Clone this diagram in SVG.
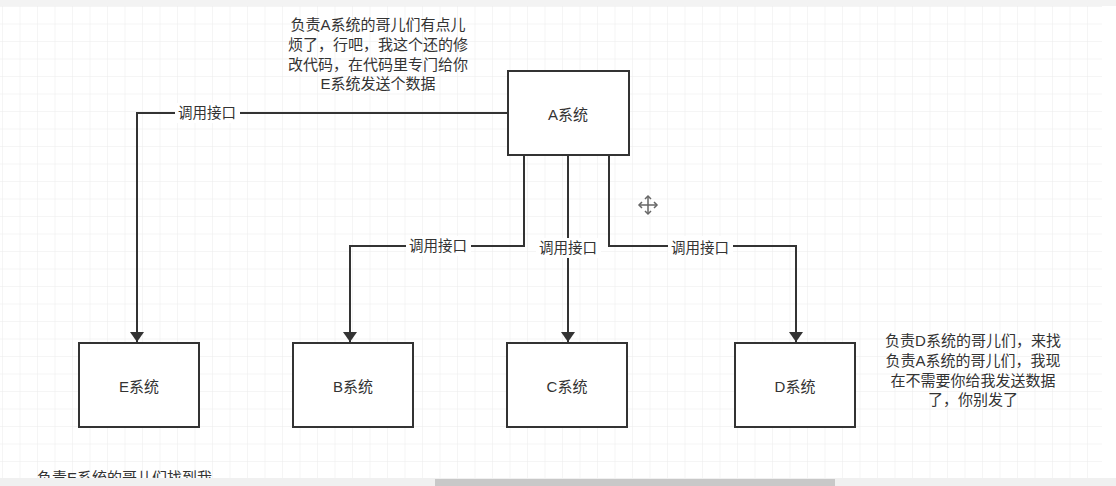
<svg xmlns="http://www.w3.org/2000/svg" width="1116" height="486" viewBox="0 0 1116 486">
<defs>
<pattern id="grid" x="3" y="7" width="17.5" height="17.5" patternUnits="userSpaceOnUse">
<path d="M17.5 0V17.5M0 17.5H17.5" fill="none" stroke="#ebebeb" stroke-width="1"/>
</pattern>
<marker id="arr" viewBox="0 0 10 14" refX="10" refY="7" markerWidth="10" markerHeight="14" markerUnits="userSpaceOnUse" orient="auto">
<path d="M0 0L10 7L0 14Z" fill="#333"/>
</marker>
<style>
.box{fill:#fff;stroke:#333;stroke-width:2}
.lbl{font-family:"Liberation Sans","Noto Sans CJK SC",sans-serif;font-size:15px;fill:#333;text-anchor:middle;dominant-baseline:central}
.note{font-family:"Liberation Sans","Noto Sans CJK SC",sans-serif;font-size:15px;fill:#333;text-anchor:middle}
.edge{fill:none;stroke:#333;stroke-width:2}
.elbl{font-family:"Liberation Sans","Noto Sans CJK SC",sans-serif;font-size:14.5px;fill:#333;text-anchor:middle;dominant-baseline:central}
</style>
</defs>
<rect width="1116" height="486" fill="#fff"/>
<rect x="0" y="6" width="1102" height="472" fill="url(#grid)"/>
<rect x="0" y="0" width="1116" height="6" fill="#f3f3f3"/>
<g id="connectors">
<path class="edge" d="M508 113H137V342" marker-end="url(#arr)"/>
<path class="edge" d="M524 155V246H350V342" marker-end="url(#arr)"/>
<path class="edge" d="M568 155V342" marker-end="url(#arr)"/>
<path class="edge" d="M609 155V246H796V342" marker-end="url(#arr)"/>
<rect x="175" y="103" width="65" height="20" fill="#fff"/>
<text class="elbl" x="207" y="113">调用接口</text>
<rect x="406" y="236" width="65" height="20" fill="#fff"/>
<text class="elbl" x="438" y="246">调用接口</text>
<rect x="536" y="238" width="65" height="20" fill="#fff"/>
<text class="elbl" x="568" y="248">调用接口</text>
<rect x="668" y="236" width="65" height="20" fill="#fff"/>
<text class="elbl" x="700" y="248">调用接口</text>
</g>
<g id="nodeA"><rect class="box" x="508" y="71" width="121" height="84"/><text class="lbl" x="568" y="114">A系统</text></g>
<g id="nodeE"><rect class="box" x="79" y="343" width="120" height="84"/><text class="lbl" x="139" y="386">E系统</text></g>
<g id="nodeB"><rect class="box" x="293" y="343" width="120" height="84"/><text class="lbl" x="353" y="386">B系统</text></g>
<g id="nodeC"><rect class="box" x="507" y="343" width="120" height="84"/><text class="lbl" x="567" y="386">C系统</text></g>
<g id="nodeD"><rect class="box" x="735" y="343" width="120" height="84"/><text class="lbl" x="795" y="386">D系统</text></g>
<g id="noteTop">
<text class="note" x="378" y="30">负责A系统的哥儿们有点儿</text>
<text class="note" x="378" y="50">烦了，行吧，我这个还的修</text>
<text class="note" x="378" y="70">改代码，在代码里专门给你</text>
<text class="note" x="378" y="89">E系统发送个数据</text>
</g>
<g id="noteD">
<text class="note" x="973" y="346">负责D系统的哥儿们，来找</text>
<text class="note" x="973" y="366">负责A系统的哥儿们，我现</text>
<text class="note" x="973" y="386">在不需要你给我发送数据</text>
<text class="note" x="973" y="405">了，你别发了</text>
</g>
<g id="noteE">
<text class="note" x="37" y="483" style="text-anchor:start">负责E系统的哥儿们找到我</text>
</g>
<g id="cursor" fill="none" stroke="#666" stroke-width="1.5">
<path d="M648 197V213M640 205H656"/>
<path d="M645 199L648 196L651 199M645 211L648 214L651 211M642 202L639 205L642 208M654 202L657 205L654 208"/>
</g>
<rect x="0" y="478" width="1116" height="8" fill="#f0f0f0"/>
<rect x="435" y="479" width="400" height="7" fill="#c8c8c8"/>
</svg>
